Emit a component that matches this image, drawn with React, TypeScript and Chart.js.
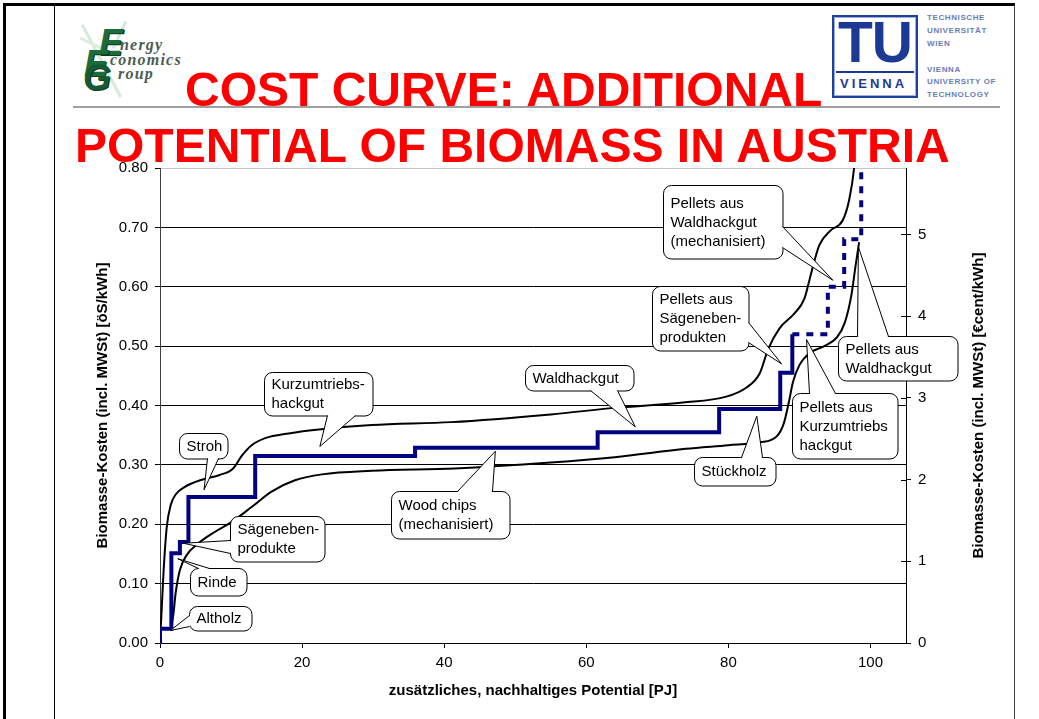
import React, { useEffect, useRef } from "react";
import { Chart, registerables } from "chart.js";
Chart.register(...registerables);

// ---------- data ----------
const upperPJ = [0, 0.25, 0.5, 0.95, 1.5, 2.2, 3.5, 5.9, 8.4, 10.3, 11.5, 12.9, 14.8, 18.1, 22.7, 29.8, 41, 55, 64, 73.6, 79.7, 82.5, 84.4, 85.6, 87.2, 89.3, 90.7, 91.7, 92.8, 94.4, 96.1, 97.0, 97.7, 98.1];
const upperCost = [0, 0.06, 0.12, 0.195, 0.232, 0.25, 0.263, 0.275, 0.283, 0.294, 0.315, 0.333, 0.345, 0.353, 0.36, 0.367, 0.372, 0.385, 0.396, 0.405, 0.415, 0.43, 0.454, 0.495, 0.53, 0.555, 0.58, 0.625, 0.67, 0.695, 0.712, 0.746, 0.8, 0.86];

const lowerPJ = [1.5, 1.9, 2.2, 2.8, 3.75, 5.4, 7.7, 10.1, 12.9, 15.7, 19.0, 22.8, 29.8, 41.5, 55, 64, 74, 80, 84.4, 86.8, 87.8, 88.5, 89.1, 90.0, 91.4, 93.5, 95.3, 96.4, 97.3, 97.9, 98.4];
const lowerCost = [0.022, 0.05, 0.084, 0.123, 0.148, 0.168, 0.187, 0.204, 0.229, 0.255, 0.274, 0.284, 0.29, 0.294, 0.304, 0.313, 0.327, 0.333, 0.338, 0.348, 0.37, 0.405, 0.44, 0.468, 0.488, 0.5, 0.515, 0.54, 0.585, 0.635, 0.675];

const stepPJ = [0, 0, 1.6, 2.8, 4.0, 13.4, 35.9, 61.6, 78.7, 87.3, 89.0];
const stepCost = [0, 0.024, 0.151, 0.17, 0.246, 0.315, 0.329, 0.355, 0.394, 0.455, 0.52];

const pelletPJ = [89.0, 94.0, 96.3, 98.7];
const pelletCost = [0.52, 0.6, 0.68, 0.86];

const xTickStep = 20;
const yTickStep = 0.1;
const eurRate = 0.137603; // öS per €cent

const xTitle = "zusätzliches, nachhaltiges Potential [PJ]";
const yTitle = "Biomasse-Kosten (incl. MWSt) [öS/kWh]";
const y2Title = "Biomasse-Kosten (incl. MWSt) [€cent/kWh]";

// callouts: text, tip in data units, box & pointer base in page px
const callouts = [
  { lines: ["Altholz"], tip: [1.45, 0.021], box: [189, 606, 62, 24], base: [[189, 615], [189, 626]] },
  { lines: ["Rinde"], tip: [2.5, 0.142], box: [190, 568, 56, 27], base: [[198, 568], [209, 568]] },
  { lines: ["Sägeneben-", "produkte"], tip: [3.3, 0.168], box: [230, 516, 94, 45], base: [[230, 540], [230, 553]] },
  { lines: ["Stroh"], tip: [6.2, 0.258], box: [179, 433, 48, 25], base: [[207, 458], [218, 458]] },
  { lines: ["Kurzumtriebs-", "hackgut"], tip: [22.5, 0.331], box: [264, 372, 108, 43], base: [[327, 415], [355, 415]] },
  { lines: ["Wood chips", "(mechanisiert)"], tip: [47.2, 0.323], box: [391, 491, 118, 47], base: [[457, 491], [492, 491]] },
  { lines: ["Waldhackgut"], tip: [66.9, 0.364], box: [525, 365, 108, 25], base: [[590, 390], [617, 390]] },
  { lines: ["Stückholz"], tip: [84.0, 0.382], box: [694, 457, 81, 28], base: [[741, 457], [762, 457]] },
  { lines: ["Pellets aus", "Kurzumtriebs", "hackgut"], tip: [91.0, 0.511], box: [792, 393, 105, 65], base: [[809, 393], [835, 393]] },
  { lines: ["Pellets aus", "Waldhackgut"], tip: [98.3, 0.667], box: [838, 336, 119, 44], base: [[857, 336], [888, 336]] },
  { lines: ["Pellets aus", "Sägeneben-", "produkten"], tip: [87.5, 0.47], box: [652, 286, 96, 64], base: [[748, 322], [748, 342]] },
  { lines: ["Pellets aus", "Waldhackgut", "(mechanisiert)"], tip: [94.7, 0.611], box: [663, 185, 119, 73], base: [[782, 226], [782, 247]] },
];

const FONT = '"Liberation Sans", Arial, Helvetica, sans-serif';

function roundRect(ctx: CanvasRenderingContext2D, x: number, y: number, w: number, h: number, r: number) {
  ctx.beginPath();
  ctx.moveTo(x + r, y);
  ctx.arcTo(x + w, y, x + w, y + h, r);
  ctx.arcTo(x + w, y + h, x, y + h, r);
  ctx.arcTo(x, y + h, x, y, r);
  ctx.arcTo(x, y, x + w, y, r);
  ctx.closePath();
}

const overlayPlugin = {
  id: "overlay",
  afterDraw(chart: any) {
    const { ctx, chartArea, scales } = chart;
    const xs = scales.x, ys = scales.y, y2 = scales.y2;
    ctx.save();
    // inner ticks of right axis
    ctx.strokeStyle = "#000";
    ctx.lineWidth = 1;
    y2.ticks.forEach((t: any) => {
      const py = Math.round(y2.getPixelForValue(t.value)) + 0.5;
      ctx.beginPath();
      ctx.moveTo(chartArea.right - 5, py);
      ctx.lineTo(chartArea.right, py);
      ctx.stroke();
    });
    // axis titles
    ctx.fillStyle = "#000";
    ctx.font = `bold 15px ${FONT}`;
    ctx.textAlign = "center";
    ctx.textBaseline = "middle";
    const midY = (chartArea.top + chartArea.bottom) / 2;
    ctx.fillText(xTitle, (chartArea.left + chartArea.right) / 2, 691);
    ctx.save();
    ctx.translate(103, midY);
    ctx.rotate(-Math.PI / 2);
    ctx.fillText(yTitle, 0, 0);
    ctx.restore();
    ctx.save();
    ctx.translate(979, midY);
    ctx.rotate(-Math.PI / 2);
    ctx.fillText(y2Title, 0, 0);
    ctx.restore();

    // callouts
    callouts.forEach((c) => {
      const tx = xs.getPixelForValue(c.tip[0]);
      const ty = ys.getPixelForValue(c.tip[1]);
      const [bx, by, bw, bh] = c.box.map((v) => v + 0.5);
      const b1 = [c.base[0][0] + 0.5, c.base[0][1] + 0.5];
      const b2 = [c.base[1][0] + 0.5, c.base[1][1] + 0.5];
      ctx.fillStyle = "#fff";
      ctx.strokeStyle = "#000";
      ctx.lineWidth = 1;
      roundRect(ctx, bx, by, bw, bh, 8);
      ctx.fill();
      ctx.stroke();
      ctx.beginPath();
      ctx.moveTo(b1[0], b1[1]);
      ctx.lineTo(tx, ty);
      ctx.lineTo(b2[0], b2[1]);
      ctx.closePath();
      ctx.fill();
      if (Math.abs(b1[1] - b2[1]) < 0.01) {
        ctx.fillRect(Math.min(b1[0], b2[0]) + 0.8, b1[1] - 1.5, Math.abs(b1[0] - b2[0]) - 1.6, 3);
      } else {
        ctx.fillRect(b1[0] - 1.5, Math.min(b1[1], b2[1]) + 0.8, 3, Math.abs(b1[1] - b2[1]) - 1.6);
      }
      ctx.beginPath();
      ctx.moveTo(b1[0], b1[1]);
      ctx.lineTo(tx, ty);
      ctx.lineTo(b2[0], b2[1]);
      ctx.stroke();
      ctx.fillStyle = "#000";
      ctx.font = `15px ${FONT}`;
      ctx.textAlign = "left";
      ctx.textBaseline = "middle";
      const lh = 19;
      const y0 = by + bh / 2 - ((c.lines.length - 1) * lh) / 2 + 0.5;
      c.lines.forEach((l, i) => ctx.fillText(l, bx + 7, y0 + i * lh));
    });
    ctx.restore();
  },
};

export default function App() {
  const ref = useRef<HTMLCanvasElement>(null);
  useEffect(() => {
    const toXY = (xs: number[], ys: number[]) => xs.map((x, i) => ({ x, y: ys[i] }));
    const chart = new Chart(ref.current as HTMLCanvasElement, {
      type: "line",
      data: {
        datasets: [
          { data: toXY(stepPJ, stepCost), borderColor: "#000080", borderWidth: 4, stepped: "before", pointRadius: 0, fill: false } as any,
          { data: toXY(pelletPJ, pelletCost), borderColor: "#000080", borderWidth: 4, stepped: "before", borderDash: [7, 7], pointRadius: 0, fill: false } as any,
          { data: toXY(upperPJ, upperCost), borderColor: "#000", borderWidth: 2, cubicInterpolationMode: "monotone", pointRadius: 0, fill: false } as any,
          { data: toXY(lowerPJ, lowerCost), borderColor: "#000", borderWidth: 2, cubicInterpolationMode: "monotone", pointRadius: 0, fill: false } as any,
        ],
      },
      options: {
        responsive: false,
        maintainAspectRatio: false,
        animation: false,
        layout: { padding: { top: 168, left: 0, right: 0, bottom: 0 } },
        plugins: { legend: { display: false }, tooltip: { enabled: false } },
        elements: { point: { radius: 0 } },
        scales: {
          x: {
            type: "linear",
            min: 0,
            max: 105,
            position: "bottom",
            ticks: { stepSize: xTickStep, includeBounds: false, color: "#000", font: { size: 15, family: FONT }, padding: 6, maxRotation: 0 },
            grid: { drawOnChartArea: false, drawTicks: true, tickLength: 5, tickColor: "#000" },
            border: { color: "#000", width: 1 },
            afterFit: (s: any) => { s.height = 76; },
          },
          y: {
            type: "linear",
            min: 0,
            max: 0.8,
            position: "left",
            ticks: { stepSize: yTickStep, color: "#000", font: { size: 15, family: FONT }, padding: 7, callback: (v: any) => Number(v).toFixed(2) },
            grid: { color: (c: any) => (c.tick && c.tick.value > 0.79 ? "#c4c4c4" : "#000"), lineWidth: 1, tickLength: 5, tickColor: "#000" },
            border: { color: "#404040", width: 1 },
            afterFit: (s: any) => { s.width = 160; },
          },
          y2: {
            type: "linear",
            min: 0,
            max: 0.8 / eurRate,
            position: "right",
            ticks: { stepSize: 1, includeBounds: false, color: "#000", font: { size: 15, family: FONT }, padding: 7, callback: (v: any) => String(Math.round(Number(v))) },
            grid: { drawOnChartArea: false, tickLength: 5, tickColor: "#000" },
            border: { color: "#000", width: 1 },
            afterFit: (s: any) => { s.width = 133; },
          },
        },
      } as any,
      plugins: [overlayPlugin as any],
    });
    return () => chart.destroy();
  }, []);

  const abs = (o: React.CSSProperties): React.CSSProperties => ({ position: "absolute", ...o });
  const tuSmall: React.CSSProperties = { position: "absolute", left: 927, fontSize: 8, fontWeight: 700, color: "#6a7cb8", letterSpacing: 0.6, lineHeight: "10px", fontFamily: FONT, whiteSpace: "nowrap" };
  const eeg: React.CSSProperties = { position: "absolute", fontSize: 36, lineHeight: "36px", fontWeight: 900, fontStyle: "italic", color: "#1b6b3c", fontFamily: FONT, textShadow: "1px 1px 0 #0d3d20" };
  const eegTxt: React.CSSProperties = { position: "absolute", fontSize: 16, lineHeight: "16px", fontStyle: "italic", fontWeight: 700, color: "#4d5c52", fontFamily: '"Liberation Serif", serif', letterSpacing: 1.2 };

  return (
    <div style={abs({ left: 0, top: 0, width: 1039, height: 719, background: "#fff", overflow: "hidden", fontFamily: FONT })}>
      {/* slide frame */}
      <div style={abs({ left: 3, top: 3, width: 1012, height: 3, background: "#000" })} />
      <div style={abs({ left: 3, top: 3, width: 3, height: 716, background: "#000" })} />
      <div style={abs({ left: 54, top: 5, width: 1, height: 714, background: "#000" })} />
      <div style={abs({ left: 1014, top: 5, width: 1, height: 714, background: "#444" })} />
      <div style={abs({ left: 73, top: 106, width: 927, height: 1.5, background: "#a0a0a0" })} />

      {/* EEG logo */}
      <div style={abs({ left: 100, top: 20, width: 3, height: 82, background: "#d6eadc", transform: "rotate(-28deg)" })} />
      <div style={abs({ left: 78, top: 46, width: 44, height: 3, background: "#dcece0", transform: "rotate(25deg)" })} />
      <div style={abs({ left: 118, top: 20, width: 3, height: 30, background: "#d6eadc", transform: "rotate(25deg)" })} />
      <div style={{ ...eeg, left: 99, top: 25 }}>E</div>
      <div style={{ ...eeg, left: 84, top: 46 }}>E</div>
      <div style={{ ...eeg, left: 83, top: 60, color: "#155a31" }}>G</div>
      <div style={{ ...eegTxt, left: 120, top: 37 }}>nergy</div>
      <div style={{ ...eegTxt, left: 110, top: 52 }}>conomics</div>
      <div style={{ ...eegTxt, left: 118, top: 66 }}>roup</div>

      {/* TU Vienna logo */}
      <div style={abs({ left: 832, top: 15, width: 82, height: 79, border: "2px solid #1f3f9f", boxShadow: "inset 0 0 0 1px #9fb0dd", background: "#fff" })} />
      <div style={abs({ left: 838, top: 14, fontSize: 57, lineHeight: "57px", fontWeight: 700, color: "#1c3a94", fontFamily: FONT, letterSpacing: -1 })}>TU</div>
      <div style={abs({ left: 836, top: 71, width: 78, height: 2, background: "#1c3a94" })} />
      <div style={abs({ left: 840, top: 77, fontSize: 13, lineHeight: "14px", fontWeight: 700, color: "#1c3a94", fontFamily: FONT, letterSpacing: 3 })}>VIENNA</div>
      <div style={{ ...tuSmall, top: 13 }}>TECHNISCHE</div>
      <div style={{ ...tuSmall, top: 26 }}>UNIVERSITÄT</div>
      <div style={{ ...tuSmall, top: 39 }}>WIEN</div>
      <div style={{ ...tuSmall, top: 65 }}>VIENNA</div>
      <div style={{ ...tuSmall, top: 77 }}>UNIVERSITY OF</div>
      <div style={{ ...tuSmall, top: 90 }}>TECHNOLOGY</div>

      <canvas ref={ref} width={1039} height={719} style={abs({ left: 0, top: 0, width: 1039, height: 719 })} />

      {/* slide title */}
      <div style={abs({ left: 185, top: 66, fontSize: 48, lineHeight: "48px", fontWeight: 700, color: "#ff0000", fontFamily: FONT, whiteSpace: "nowrap" })}>COST CURVE: ADDITIONAL</div>
      <div style={abs({ left: 75, top: 122, fontSize: 48, lineHeight: "48px", fontWeight: 700, color: "#ff0000", fontFamily: FONT, whiteSpace: "nowrap" })}>POTENTIAL OF BIOMASS IN AUSTRIA</div>
    </div>
  );
}
